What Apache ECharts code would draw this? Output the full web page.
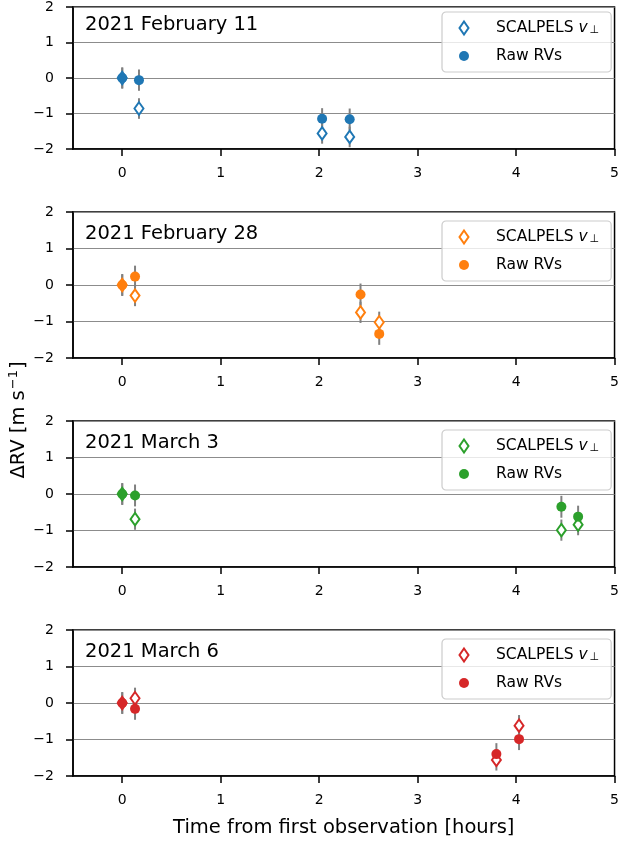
<!DOCTYPE html>
<html>
<head>
<meta charset="utf-8">
<script src="https://cdn.jsdelivr.net/npm/echarts@6/dist/echarts.min.js"></script>
<style>
html, body { margin: 0; padding: 0; background: #fff; }
#chart { width: 622px; height: 843px; }
</style>
</head>
<body>
<div id="chart"></div>
<script>
// one panel per night, time in hours from the first exposure
var nights = ['2021 February 11', '2021 February 28', '2021 March 3', '2021 March 6'];
var colors = ['#1f77b4', '#ff7f0e', '#2ca02c', '#d62728'];

var timeFeb11 = [0, 0.17, 2.03, 2.31];
var scalFeb11 = [0.0, -0.86, -1.56, -1.66];
var rawFeb11 = [0.0, -0.06, -1.15, -1.16];

var timeFeb28 = [0, 0.13, 2.42, 2.61];
var scalFeb28 = [0.0, -0.29, -0.75, -1.02];
var rawFeb28 = [0.0, 0.23, -0.26, -1.34];

var timeMar3 = [0, 0.13, 4.46, 4.63];
var scalMar3 = [0.0, -0.69, -0.99, -0.84];
var rawMar3 = [0.0, -0.04, -0.35, -0.62];

var timeMar6 = [0, 0.13, 3.80, 4.03];
var scalMar6 = [0.0, 0.13, -1.56, -0.62];
var rawMar6 = [0.0, -0.16, -1.40, -0.99];

// 1-sigma errors (m/s), about the same for every point
var scalErr = [0.29, 0.29, 0.29, 0.29];
var rawErr = [0.3, 0.3, 0.3, 0.3];

var xTicks = [0, 1, 2, 3, 4, 5];

var times = [timeFeb11, timeFeb28, timeMar3, timeMar6];
var scals = [scalFeb11, scalFeb28, scalMar3, scalMar6];
var raws = [rawFeb11, rawFeb28, rawMar3, rawMar6];

var FONT = 'DejaVu Sans';
var panelTop = [3, 212, 421, 630];
// legend icons: the empty moves stretch the box so the marker sits left of the label gap
var iconBox = ' M-17,-7L-17,-7 M27,7L27,7';
var diamondIcon = 'path://M0,-6.5L4.5,0L0,6.5L-4.5,0Z' + iconBox;
var circleIcon = 'path://M-5,0A5,5 0 1,0 5,0A5,5 0 1,0 -5,0Z' + iconBox;

function zip(t, v, e) {
    var out = [];
    for (var k = 0; k < t.length; k++) out.push([t[k], v[k], e[k]]);
    return out;
}

function errRender(params, api) {
    var x = api.value(0), y = api.value(1), e = api.value(2);
    var lo = api.coord([x, y - e]);
    var hi = api.coord([x, y + e]);
    return {
        type: 'line',
        shape: { x1: lo[0], y1: lo[1], x2: hi[0], y2: hi[1] },
        style: { stroke: '#808080', lineWidth: 2 }
    };
}

var grids = [], xAxes = [], yAxes = [], series = [], legends = [], titles = [];

for (let i = 0; i < 4; i++) {
    grids.push({
        left: 73, right: 5, top: panelTop[i], height: 146,
        show: true, borderColor: '#000', borderWidth: 1.5, backgroundColor: 'transparent'
    });
    xAxes.push({
        gridIndex: i, type: 'value', min: -0.5, max: 5,
        axisLine: { onZero: false, lineStyle: { color: '#000', width: 1.5 } },
        axisTick: { length: 7, lineStyle: { color: '#000', width: 1.5 }, customValues: xTicks },
        axisLabel: { color: '#000', fontFamily: FONT, fontSize: 14, margin: 17, customValues: xTicks },
        splitLine: { show: false },
        name: i == 3 ? 'Time from first observation [hours]' : '',
        nameLocation: 'middle', nameGap: 42,
        nameTextStyle: { color: '#000', fontFamily: FONT, fontSize: 19.5 }
    });
    yAxes.push({
        gridIndex: i, type: 'value', min: -2, max: 2, interval: 1,
        axisLine: { onZero: false, lineStyle: { color: '#000', width: 1.5 } },
        axisTick: { length: 7, lineStyle: { color: '#000', width: 1.5 } },
        axisLabel: {
            color: '#000', fontFamily: FONT, fontSize: 14, margin: 19,
            formatter: function (v) { return v < 0 ? '\u2212' + Math.abs(v) : String(v); }
        },
        splitLine: { show: true, lineStyle: { color: '#8c8c8c', width: 1.2 } }
    });

    series.push({
        type: 'custom', xAxisIndex: i, yAxisIndex: i, renderItem: errRender,
        encode: { x: 0, y: 1 }, clip: false, silent: true,
        data: zip(times[i], scals[i], scalErr)
    });
    series.push({
        name: 'SCALPELS ' + i, type: 'scatter', xAxisIndex: i, yAxisIndex: i,
        symbol: 'diamond', symbolSize: [9, 12.5],
        itemStyle: { color: '#fff', borderColor: colors[i], borderWidth: 2, opacity: 1 },
        data: times[i].map(function (t, k) { return [t, scals[i][k]]; })
    });
    series.push({
        type: 'custom', xAxisIndex: i, yAxisIndex: i, renderItem: errRender,
        encode: { x: 0, y: 1 }, clip: false, silent: true,
        data: zip(times[i], raws[i], rawErr)
    });
    series.push({
        name: 'Raw ' + i, type: 'scatter', xAxisIndex: i, yAxisIndex: i,
        symbol: 'circle', symbolSize: 10,
        itemStyle: { color: colors[i], opacity: 1 },
        data: times[i].map(function (t, k) { return [t, raws[i][k]]; })
    });

    legends.push({
        orient: 'vertical', left: 442, top: panelTop[i] + 9,
        padding: [8, 12, 8, 4], itemWidth: 44, itemHeight: 14, itemGap: 12,
        borderColor: '#cccccc', borderWidth: 1.2, borderRadius: 4,
        backgroundColor: 'rgba(255,255,255,0.8)', selectedMode: false,
        data: [
            { name: 'SCALPELS ' + i, icon: diamondIcon },
            { name: 'Raw ' + i, icon: circleIcon }
        ],
        formatter: function (name) {
            return name.indexOf('SCALPELS') === 0 ? '{t|SCALPELS }{i|v}{s|\u22A5}' : '{t|Raw RVs}';
        },
        textStyle: {
            color: '#000', fontFamily: FONT, fontSize: 15.5,
            rich: {
                t: { color: '#000', fontFamily: FONT, fontSize: 15.5 },
                i: { color: '#000', fontFamily: FONT, fontSize: 15.5, fontStyle: 'italic' },
                s: { color: '#000', fontFamily: FONT, fontSize: 11, verticalAlign: 'bottom', padding: [0, 0, 0, 2] }
            }
        }
    });

    titles.push({
        text: nights[i], left: 85, top: panelTop[i] + 12, padding: 0,
        textStyle: { color: '#000', fontFamily: FONT, fontSize: 19.5, fontWeight: 'normal' }
    });
}

var chart = echarts.init(document.getElementById('chart'), null, { renderer: 'canvas' });
chart.setOption({
    animation: false,
    backgroundColor: '#fff',
    title: titles,
    grid: grids,
    xAxis: xAxes,
    yAxis: yAxes,
    legend: legends,
    series: series,
    graphic: [{
        type: 'text', x: 19, y: 420, rotation: Math.PI / 2,
        style: {
            text: '{n|\u0394RV [m s}{p|\u22121}{n|]}',
            align: 'center', verticalAlign: 'middle',
            rich: {
                n: { fontFamily: FONT, fontSize: 19.5, fill: '#000', color: '#000', lineHeight: 24 },
                p: { fontFamily: FONT, fontSize: 13, fill: '#000', color: '#000', verticalAlign: 'top', padding: [0, 1, 8, 1] }
            }
        }
    }]
});
</script>
</body>
</html>
